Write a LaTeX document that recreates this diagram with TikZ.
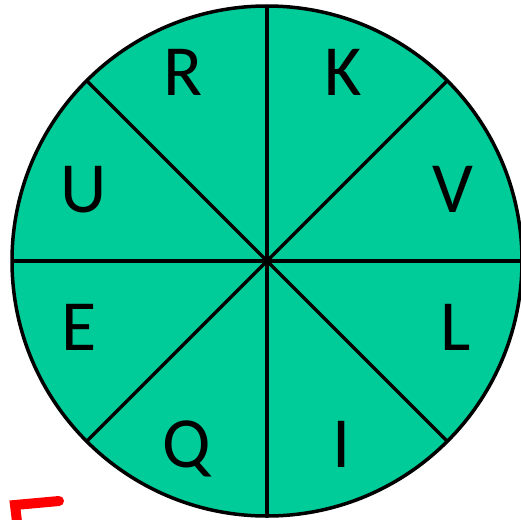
\documentclass[tikz,border=0pt]{standalone}
\usepackage{fontspec}
\setsansfont{Carlito}
\usepackage{tikz}
\usetikzlibrary{positioning}
\definecolor{wheelGreen}{HTML}{00CC99}
\definecolor{penRed}{HTML}{FF0000}

\begin{document}
\begin{tikzpicture}[
  x=1pt, y=-1pt,
  wheel/.style={
    circle, draw=black, fill=wheelGreen, line width=3.5pt,
    minimum size=510pt, inner sep=0pt, outer sep=0pt,
  },
  spoke/.style={line width=3.5pt, color=black},
  letter/.style={anchor=base, inner sep=0pt,
    font=\sffamily\fontsize{72}{72}\selectfont},
  redpen/.style={line width=10pt, color=penRed, line cap=round},
]
\useasboundingbox (0,0) rectangle (521,519);

\node[wheel] (W) at (267,261) {};

% spokes
\foreach \a in {0,45,90,135}
  \draw[spoke] (W.\a) -- (W.\the\numexpr\a+180\relax);

% letters
\node[letter] (R) at (183,95)  {R};
\node[letter] (K) at (343,95)  {K};
\node[letter] (U) at (84,212)  {U};
\node[letter] (V) at (453,212) {V};
\node[letter] (E) at (79,350)  {E};
\node[letter] (L) at (456,350) {L};
\node[letter] (Q) at (187,467) {Q};
\node[letter] (I) at (342,467) {I};

% red pen mark
\coordinate (penA) at (15,505);
\coordinate (penB) at (59,501);
\coordinate (penC) at (18,530);
\draw[redpen] (penB) -- (penA) -- (penC);
\end{tikzpicture}
\end{document}
